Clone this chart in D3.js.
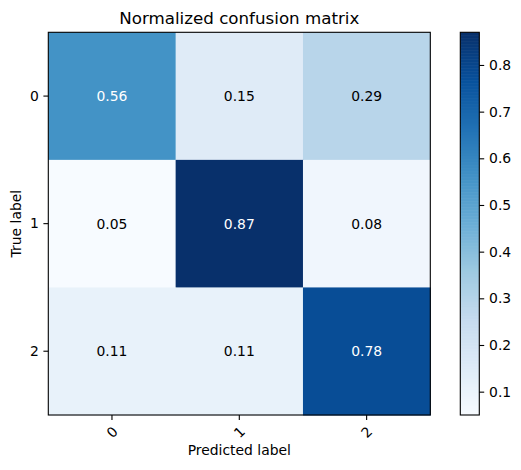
<!DOCTYPE html>
<html><head><meta charset="utf-8">
<script src="https://cdn.jsdelivr.net/npm/d3@7"></script>
<style>
html,body{margin:0;padding:0;background:#fff;}
svg{display:block;font-family:"DejaVu Sans",sans-serif;}
</style></head>
<body>
<svg id="chart" width="521" height="470"></svg>
<script>
const classes = ["0", "1", "2"];
const matrix = [
  [0.56, 0.15, 0.29],
  [0.05, 0.87, 0.08],
  [0.11, 0.11, 0.78]
];
const colorbarTicks = [0.1, 0.2, 0.3, 0.4, 0.5, 0.6, 0.7, 0.8];
const colorMin = 0.05, colorMax = 0.87;
const blues = ["#f7fbff","#deebf7","#c6dbef","#9ecae1","#6baed6","#4292c6","#2171b5","#08519c","#08306b"];

const svg = d3.select("#chart");
const L = 48.3, R = 430.3, T = 32.3, B = 415;
const cbL = 460.3, cbR = 479.3;

const x = d3.scaleBand().domain(classes).range([L, R]);
const y = d3.scaleBand().domain(classes).range([T, B]);
const t = d3.scaleLinear().domain([colorMin, colorMax]).range([0, 1]);
const ramp = d3.scaleLinear().domain(blues.map((_, i) => i / (blues.length - 1))).range(blues).interpolate(d3.interpolateRgb).clamp(true);
const color = v => ramp(t(v));

const cells = [];
matrix.forEach((row, i) => row.forEach((v, j) => cells.push({i, j, v})));
const thresh = d3.max(cells, d => d.v) / 2;

svg.selectAll("rect.cell").data(cells).enter().append("rect")
  .attr("x", d => x(classes[d.j])).attr("y", d => y(classes[d.i]))
  .attr("width", x.bandwidth() + 0.5).attr("height", y.bandwidth() + 0.5)
  .attr("fill", d => color(d.v));

svg.selectAll("text.val").data(cells).enter().append("text")
  .attr("x", d => x(classes[d.j]) + x.bandwidth() / 2)
  .attr("y", d => y(classes[d.i]) + y.bandwidth() / 2)
  .attr("text-anchor", "middle").attr("dominant-baseline", "central")
  .attr("font-size", "13.9px")
  .attr("fill", d => d.v > thresh ? "#ffffff" : "#000000")
  .text(d => d.v.toFixed(2));

svg.append("rect").attr("x", L).attr("y", T).attr("width", R - L).attr("height", B - T)
  .attr("fill", "none").attr("stroke", "#000").attr("stroke-width", 1.1);

// y axis
const yAxis = svg.append("g").attr("transform", `translate(${L},0)`)
  .call(d3.axisLeft(y).tickSize(4.9).tickPadding(4.5));
yAxis.select(".domain").remove();
yAxis.selectAll("line").attr("stroke", "#000").attr("stroke-width", 1.1);
yAxis.selectAll("text").attr("font-size", "13.9px").attr("fill", "#000").attr("font-family", "DejaVu Sans");

// x axis
const xAxis = svg.append("g").attr("transform", `translate(0,${B})`)
  .call(d3.axisBottom(x).tickSize(4.9).tickPadding(0));
xAxis.select(".domain").remove();
xAxis.selectAll("line").attr("stroke", "#000").attr("stroke-width", 1.1);
xAxis.selectAll("text").attr("font-size", "13.9px").attr("fill", "#000").attr("font-family", "DejaVu Sans")
  .attr("y", null).attr("dy", null)
  .attr("text-anchor", "middle").attr("dominant-baseline", "central")
  .attr("transform", "translate(0,17) rotate(-45)");

// labels
svg.append("text").attr("x", (L + R) / 2).attr("y", 24).attr("text-anchor", "middle")
  .attr("font-size", "16.7px").attr("fill", "#000").text("Normalized confusion matrix");
svg.append("text").attr("x", (L + R) / 2).attr("y", 455).attr("text-anchor", "middle")
  .attr("font-size", "13.9px").attr("fill", "#000").text("Predicted label");
svg.append("text").attr("transform", `translate(20.5,${(T + B) / 2}) rotate(-90)`).attr("text-anchor", "middle")
  .attr("font-size", "13.9px").attr("fill", "#000").text("True label");

// colorbar
const cy = d3.scaleLinear().domain([colorMin, colorMax]).range([B, T]);
const steps = d3.range(0, 256);
svg.selectAll("rect.cb").data(steps).enter().append("rect")
  .attr("x", cbL).attr("width", cbR - cbL)
  .attr("y", d => cy(colorMin + (d + 1) / 256 * (colorMax - colorMin)))
  .attr("height", (B - T) / 256 + 0.6)
  .attr("fill", d => color(colorMin + (d + 0.5) / 256 * (colorMax - colorMin)));
svg.append("rect").attr("x", cbL).attr("y", T).attr("width", cbR - cbL).attr("height", B - T)
  .attr("fill", "none").attr("stroke", "#000").attr("stroke-width", 1.1);
const cAxis = svg.append("g").attr("transform", `translate(${cbR},0)`)
  .call(d3.axisRight(cy).tickValues(colorbarTicks).tickFormat(d3.format(".1f")).tickSize(4.9).tickPadding(4.9));
cAxis.select(".domain").remove();
cAxis.selectAll("line").attr("stroke", "#000").attr("stroke-width", 1.1);
cAxis.selectAll("text").attr("font-size", "13.9px").attr("fill", "#000").attr("font-family", "DejaVu Sans");
</script>
</body></html>
